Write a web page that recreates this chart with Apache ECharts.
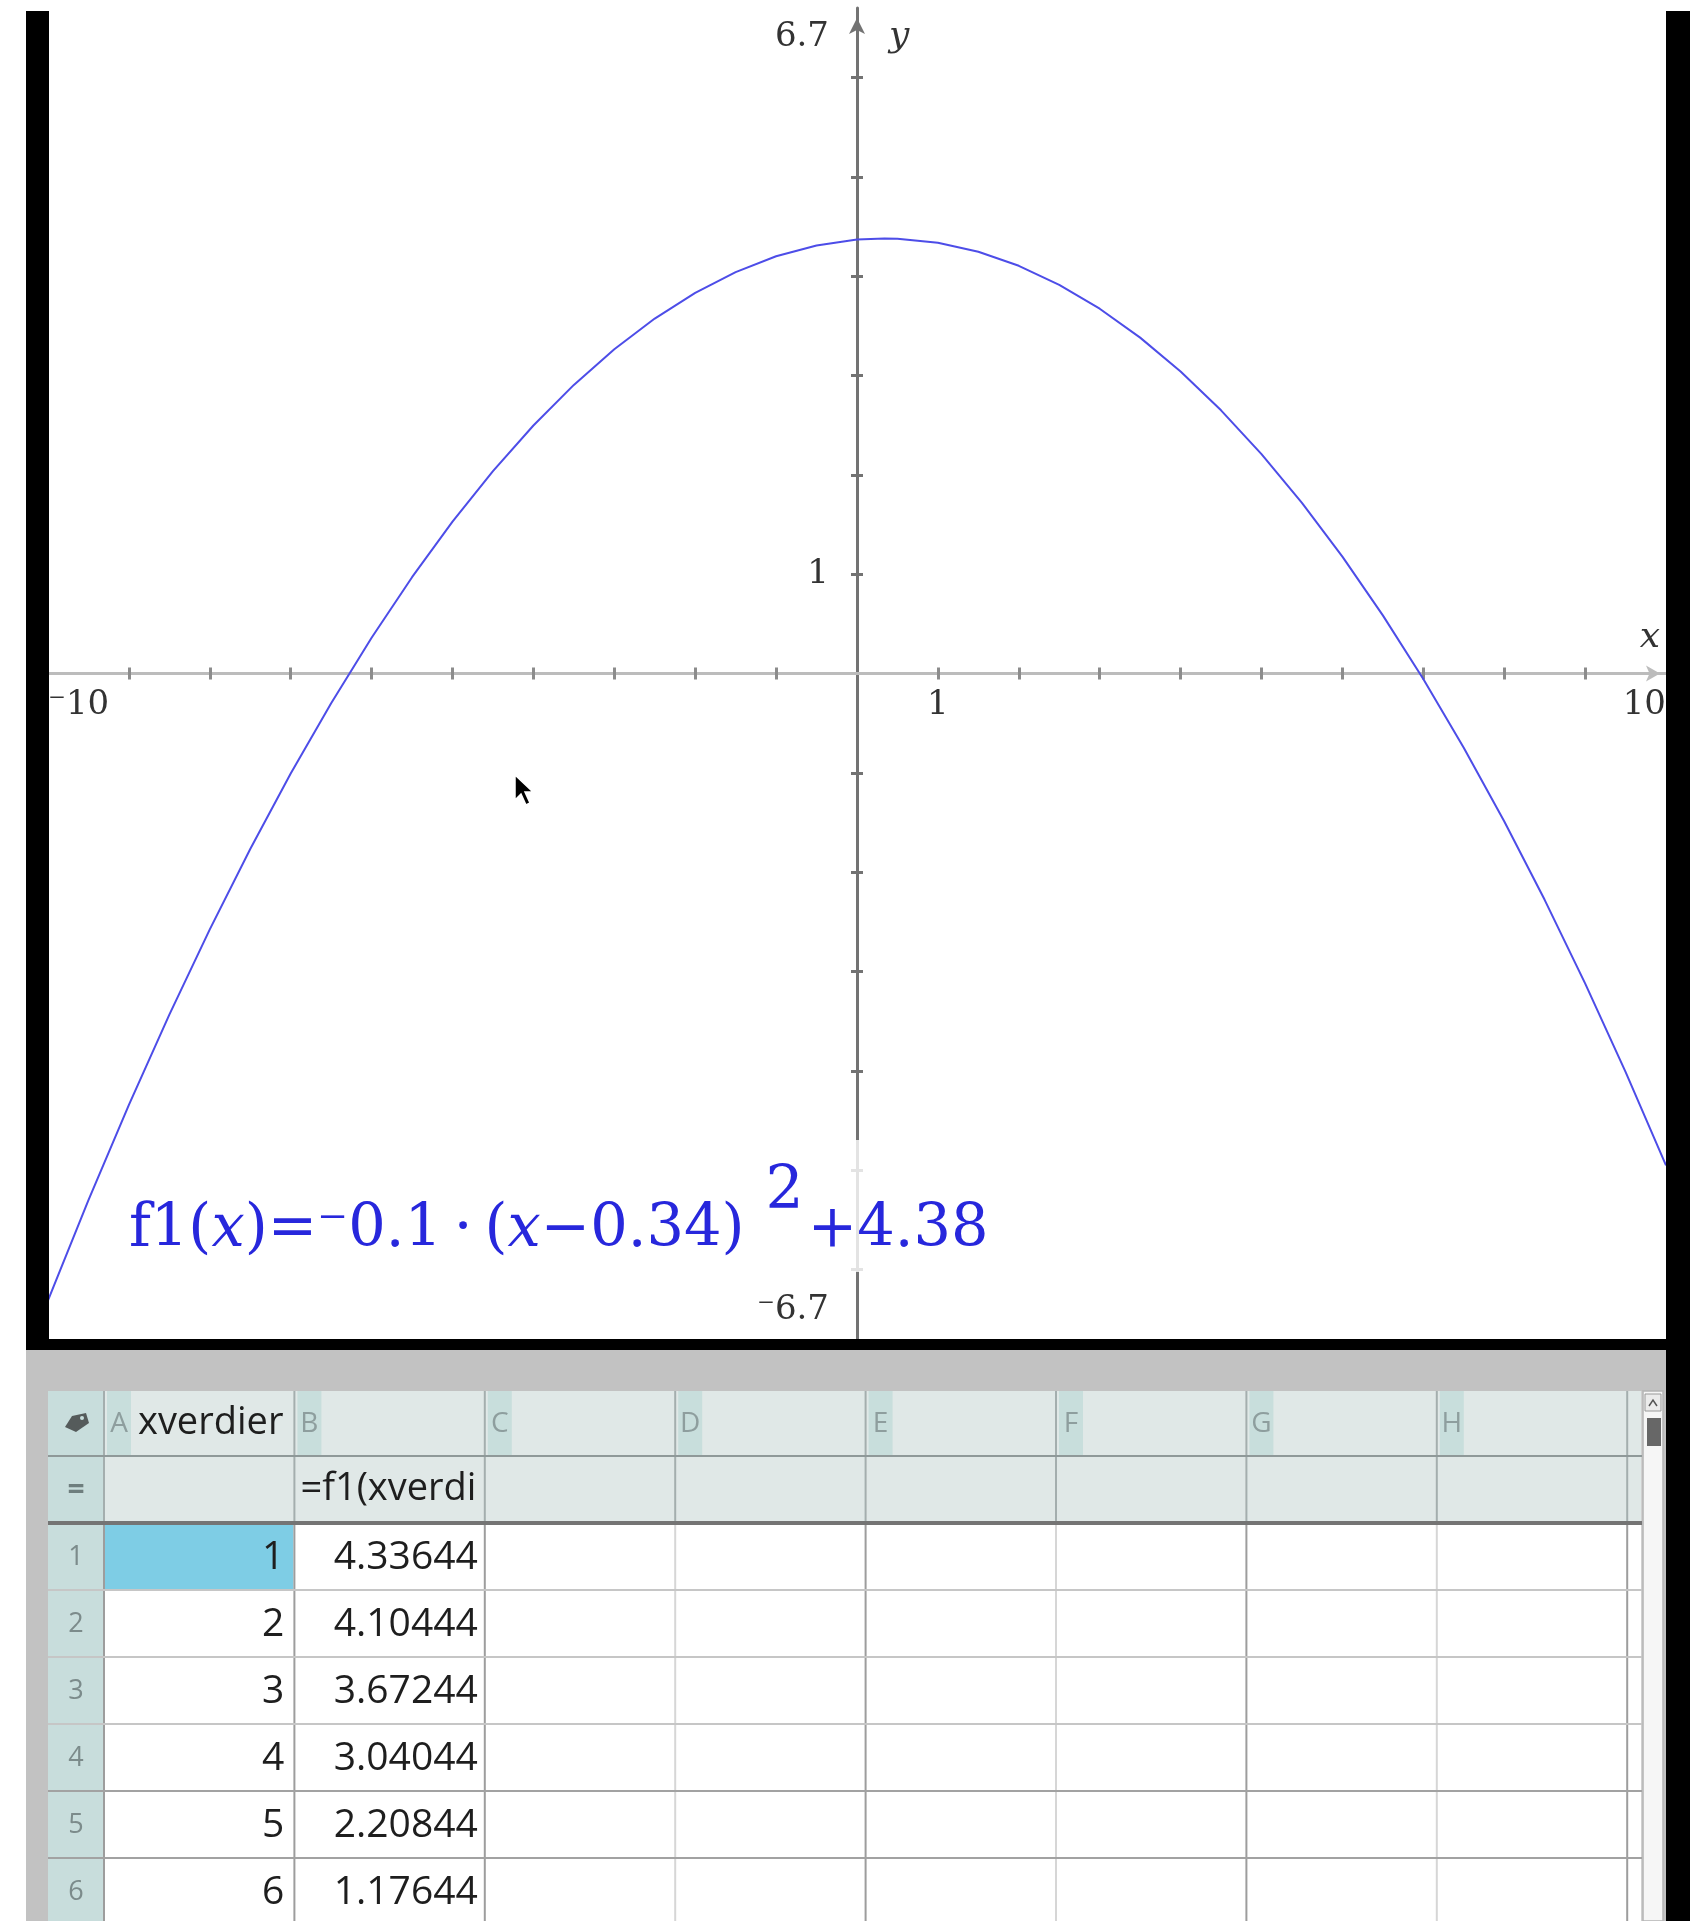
<!DOCTYPE html>
<html>
<head>
<meta charset="utf-8">
<title>f1(x) og tabell</title>
<script src="https://cdn.jsdelivr.net/npm/echarts@6/dist/echarts.min.js"></script>
<style>
  html, body { margin: 0; padding: 0; background: #ffffff; }
  #chart { width: 1690px; height: 1921px; }
</style>
</head>
<body>
<div id="chart"></div>
<script>
// ---- data ----
// sampled points of the graphed function f1
const curveX = [-10, -9.5, -9, -8.5, -8, -7.5, -7, -6.5, -6, -5.5, -5, -4.5, -4, -3.5, -3, -2.5, -2, -1.5, -1, -0.5,
                0, 0.34, 0.5, 1, 1.5, 2, 2.5, 3, 3.5, 4, 4.5, 5, 5.5, 6, 6.5, 7, 7.5, 8, 8.5, 9, 9.5, 10];
const curveY = [-6.31156, -5.30256, -4.34356, -3.43456, -2.57556, -1.76656, -1.00756, -0.29856, 0.36044, 0.96944,
                1.52844, 2.03744, 2.49644, 2.90544, 3.26444, 3.57344, 3.83244, 4.04144, 4.20044, 4.30944,
                4.36844, 4.38, 4.37744, 4.33644, 4.24544, 4.10444, 3.91344, 3.67244, 3.38144, 3.04044,
                2.64944, 2.20844, 1.71744, 1.17644, 0.58544, -0.05556, -0.74656, -1.48756, -2.27856, -3.11956,
                -4.01056, -4.95156];

// axis window, ticks and tick labels
const xRange = [-10, 10];
const yRange = [-6.7, 6.7];
const xTickValues = [-9, -8, -7, -6, -5, -4, -3, -2, -1, 1, 2, 3, 4, 5, 6, 7, 8, 9];
const yTickValues = [-6, -5, -4, -3, -2, -1, 1, 2, 3, 4, 5, 6];
const xLabelValues = [-10, 1, 10];
const yLabelValues = [-6.7, 1, 6.7];

// spreadsheet contents
const columnLetters = ['A', 'B', 'C', 'D', 'E', 'F', 'G', 'H'];
const columnNames = ['xverdier', '', '', '', '', '', '', ''];
const columnFormulas = ['', '=f1(xverdi', '', '', '', '', '', ''];
const rowNumbers = [1, 2, 3, 4, 5, 6];
const xverdier = [1, 2, 3, 4, 5, 6];
const f1verdier = ['4.33644', '4.10444', '3.67244', '3.04044', '2.20844', '1.17644'];

// ---- drawing ----
const serif = 'DejaVu Serif';
const sans = 'Open Sans';
const blue = '#2727dc';
const supMinus = v => (v < 0 ? '\u207B' + Math.abs(v) : String(v));

// plot window
const GRID = { left: 48, top: 8, width: 1618, height: 1331 };
// axes cross at the origin: shift them from the grid edges to x = 0 / y = 0
const yAxisOffset = -GRID.width * (0 - xRange[0]) / (xRange[1] - xRange[0]);
const xAxisOffset = -GRID.height * (0 - yRange[0]) / (yRange[1] - yRange[0]);

const g = [];

// spreadsheet panel
const S = { left: 48, right: 1642, top: 1391, headBottom: 1456, formBottom: 1521, rowsTop: 1523, rowH: 67, numRight: 104, colW: 190.4 };
const colX = i => S.numRight + i * S.colW;

g.push({ type: 'rect', z: 1, shape: { x: 26, y: 1350, width: 1642, height: 571 }, style: { fill: '#c2c2c2' } });
g.push({ type: 'rect', z: 2, shape: { x: S.left, y: S.top, width: S.right - S.left, height: S.rowsTop - S.top }, style: { fill: '#e0e8e7' } });
g.push({ type: 'rect', z: 2, shape: { x: S.numRight, y: S.rowsTop, width: S.right - S.numRight, height: 1921 - S.rowsTop }, style: { fill: '#ffffff' } });
g.push({ type: 'rect', z: 2, shape: { x: S.left, y: S.top, width: S.numRight - S.left, height: 1921 - S.top }, style: { fill: '#c8dddc' } });
// selected cell A1
g.push({ type: 'rect', z: 3, shape: { x: S.numRight + 1, y: S.rowsTop + 2, width: S.colW - 2, height: S.rowH - 3 }, style: { fill: '#7ecde5' } });

// column letter strips and header texts
columnLetters.forEach((L, i) => {
  const x0 = colX(i);
  g.push({ type: 'rect', z: 3, shape: { x: x0 + 3, y: S.top, width: 24, height: S.headBottom - S.top }, style: { fill: '#c8dedc' } });
  g.push({ type: 'text', z: 6, x: x0 + 15, y: 1424, style: { text: L, fill: '#8e9e9e', font: '28px "' + sans + '"', align: 'center', verticalAlign: 'middle' } });
  if (columnNames[i]) {
    g.push({ type: 'text', z: 6, x: x0 + 34, y: 1423, style: { text: columnNames[i], fill: '#1e1e1e', font: '38px "' + sans + '"', align: 'left', verticalAlign: 'middle' } });
  }
  if (columnFormulas[i]) {
    g.push({ type: 'text', z: 6, x: x0 + 6, y: 1489, style: { text: columnFormulas[i], fill: '#1e1e1e', font: '38px "' + sans + '"', align: 'left', verticalAlign: 'middle' } });
  }
});

// vertical grid lines
const bounds = [];
for (let i = 0; i <= 8; i++) bounds.push(colX(i));
bounds.forEach((x, i) => {
  g.push({ type: 'line', z: 4, shape: { x1: x, y1: S.top, x2: x, y2: S.rowsTop }, style: { stroke: '#a4aeae', lineWidth: 2 } });
  const light = (i === 3 || i === 5 || i === 7);
  g.push({ type: 'line', z: 4, shape: { x1: x, y1: S.rowsTop, x2: x, y2: 1921 }, style: { stroke: light ? '#d6d6d6' : '#9d9d9d', lineWidth: 2 } });
});
g.push({ type: 'line', z: 4, shape: { x1: S.right, y1: S.top, x2: S.right, y2: 1921 }, style: { stroke: '#d0d0d0', lineWidth: 2 } });

// horizontal lines
g.push({ type: 'line', z: 4, shape: { x1: S.left, y1: S.headBottom, x2: S.right, y2: S.headBottom }, style: { stroke: '#8f9999', lineWidth: 2 } });
g.push({ type: 'rect', z: 4, shape: { x: S.left, y: S.formBottom, width: S.right - S.left, height: 4 }, style: { fill: '#747474' } });
rowNumbers.forEach((n, k) => {
  const yLine = S.rowsTop + (k + 1) * S.rowH;
  g.push({ type: 'line', z: 4, shape: { x1: S.left, y1: yLine, x2: S.right, y2: yLine }, style: { stroke: k >= 3 ? '#a2a2a2' : '#c6c6c6', lineWidth: 2 } });
  const yc = S.rowsTop + k * S.rowH + S.rowH / 2 + 1;
  g.push({ type: 'text', z: 6, x: 76, y: yc, style: { text: String(n), fill: '#7c8b8b', font: '27px "' + sans + '"', align: 'center', verticalAlign: 'middle' } });
  g.push({ type: 'text', z: 6, x: colX(1) - 10, y: yc, style: { text: String(xverdier[k]), fill: '#1e1e1e', font: '39px "' + sans + '"', align: 'right', verticalAlign: 'middle' } });
  g.push({ type: 'text', z: 6, x: colX(2) - 7, y: yc, style: { text: f1verdier[k], fill: '#1e1e1e', font: '39px "' + sans + '"', align: 'right', verticalAlign: 'middle' } });
});

// corner tag icon and formula-row marker
g.push({ type: 'polygon', z: 6, shape: { points: [[65, 1427], [72, 1416], [86, 1413], [89, 1423], [76, 1432]] }, style: { fill: '#555b5b' } });
g.push({ type: 'circle', z: 7, shape: { cx: 82, cy: 1418, r: 2 }, style: { fill: '#c8dddc' } });
g.push({ type: 'text', z: 6, x: 76, y: 1490, style: { text: '=', fill: '#6e7e7e', font: 'bold 30px "' + sans + '"', align: 'center', verticalAlign: 'middle' } });

// scrollbar
g.push({ type: 'rect', z: 5, shape: { x: 1643, y: 1391, width: 20, height: 530 }, style: { fill: '#f6f6f6', stroke: '#b4b4b4', lineWidth: 1.5 } });
g.push({ type: 'rect', z: 6, shape: { x: 1645, y: 1394, width: 16, height: 17 }, style: { fill: '#ebebeb', stroke: '#9a9a9a', lineWidth: 1 } });
g.push({ type: 'polyline', z: 7, shape: { points: [[1649, 1406], [1653, 1400], [1657, 1406]] }, style: { stroke: '#555', lineWidth: 1.5, fill: null } });
g.push({ type: 'rect', z: 6, shape: { x: 1647, y: 1418, width: 14, height: 28 }, style: { fill: '#676767' } });

// black frame of the graph window
g.push({ type: 'rect', z: 100, shape: { x: 26, y: 11, width: 23, height: 1339 }, style: { fill: '#000' } });
g.push({ type: 'rect', z: 100, shape: { x: 1666, y: 11, width: 24, height: 1910 }, style: { fill: '#000' } });
g.push({ type: 'rect', z: 100, shape: { x: 26, y: 1339, width: 1642, height: 11 }, style: { fill: '#000' } });

// function label
g.push({
  type: 'text', z: 50, left: 121, top: 1140,
  style: {
    text: '{a|f1(}{i|x}{a|)=\u207B0.1\u2009·\u2009(}{i|x}{a|\u22120.34)}{s|2}{a|+4.38}',
    rich: {
      a: { fontFamily: serif, fontSize: 59, fill: blue, lineHeight: 66, verticalAlign: 'bottom' },
      i: { fontFamily: serif, fontSize: 59, fontStyle: 'italic', fill: blue, lineHeight: 66, verticalAlign: 'bottom' },
      s: { fontFamily: serif, fontSize: 60, fill: blue, verticalAlign: 'bottom', padding: [0, 4, 38, 21] }
    },
    backgroundColor: 'rgba(255,255,255,0.8)',
    padding: [22, 10, 12, 8]
  }
});

// mouse pointer
g.push({
  type: 'polygon', z: 60,
  shape: { points: [[515, 775], [515, 800], [521, 794], [526, 805], [530, 803], [525, 792], [533, 792]] },
  style: { fill: '#000', stroke: '#fff', lineWidth: 1.5 }
});

const tickStyle = (color) => ({ color: color, width: 3 });
const axisFont = { fontFamily: serif, fontSize: 34, color: '#333' };

const option = {
  animation: false,
  backgroundColor: '#ffffff',
  grid: Object.assign({ containLabel: false, outerBoundsMode: 'none' }, GRID),
  xAxis: [
    {
      type: 'value', position: 'bottom', offset: xAxisOffset, min: xRange[0], max: xRange[1],
      axisLine: { onZero: false, lineStyle: { color: '#bcbcbc', width: 3 }, symbol: ['none', 'arrow'], symbolSize: [12, 14], symbolOffset: [0, -6] },
      axisTick: { show: true, customValues: xTickValues, inside: false, length: 6, lineStyle: tickStyle('#8c8c8c') },
      axisLabel: Object.assign({ customValues: xLabelValues, formatter: supMinus, margin: 12, lineHeight: 40, alignMinLabel: 'left', alignMaxLabel: 'right' }, axisFont),
      splitLine: { show: false },
      name: 'x', nameLocation: 'end', nameGap: -16,
      nameTextStyle: { fontFamily: serif, fontStyle: 'italic', fontSize: 36, color: '#333', align: 'center', verticalAlign: 'bottom', padding: [0, 0, 18, 0] }
    },
    {
      type: 'value', position: 'bottom', offset: xAxisOffset, min: xRange[0], max: xRange[1],
      axisLine: { onZero: false, lineStyle: { opacity: 0 } },
      axisTick: { show: true, customValues: xTickValues, inside: true, length: 6, lineStyle: tickStyle('#8c8c8c') },
      axisLabel: { show: false },
      splitLine: { show: false }
    }
  ],
  yAxis: [
    {
      type: 'value', position: 'left', offset: yAxisOffset, min: yRange[0], max: yRange[1],
      axisLine: { onZero: false, lineStyle: { color: '#737373', width: 3 }, symbol: ['none', 'arrow'], symbolSize: [12, 16], symbolOffset: [0, -10] },
      axisTick: { show: true, customValues: yTickValues, inside: false, length: 6, lineStyle: tickStyle('#737373') },
      axisLabel: Object.assign({ customValues: yLabelValues, formatter: supMinus, margin: 28, lineHeight: 58, verticalAlignMinLabel: 'bottom', verticalAlignMaxLabel: 'top' }, axisFont),
      splitLine: { show: false },
      name: 'y', nameLocation: 'end', nameGap: -29,
      nameTextStyle: { fontFamily: serif, fontStyle: 'italic', fontSize: 36, color: '#333', align: 'left', verticalAlign: 'middle', padding: [0, 0, 0, 32] }
    },
    {
      type: 'value', position: 'left', offset: yAxisOffset, min: yRange[0], max: yRange[1],
      axisLine: { onZero: false, lineStyle: { opacity: 0 } },
      axisTick: { show: true, customValues: yTickValues, inside: true, length: 6, lineStyle: tickStyle('#737373') },
      axisLabel: { show: false },
      splitLine: { show: false }
    }
  ],
  series: [{
    name: 'f1', type: 'line', xAxisIndex: 0, yAxisIndex: 0,
    data: curveX.map((x, i) => [x, curveY[i]]),
    showSymbol: false, smooth: false, clip: true, silent: true,
    lineStyle: { color: '#4d4de8', width: 2 }
  }],
  graphic: { elements: g }
};

const chart = echarts.init(document.getElementById('chart'), null, { renderer: 'canvas' });
chart.setOption(option);
</script>
</body>
</html>
